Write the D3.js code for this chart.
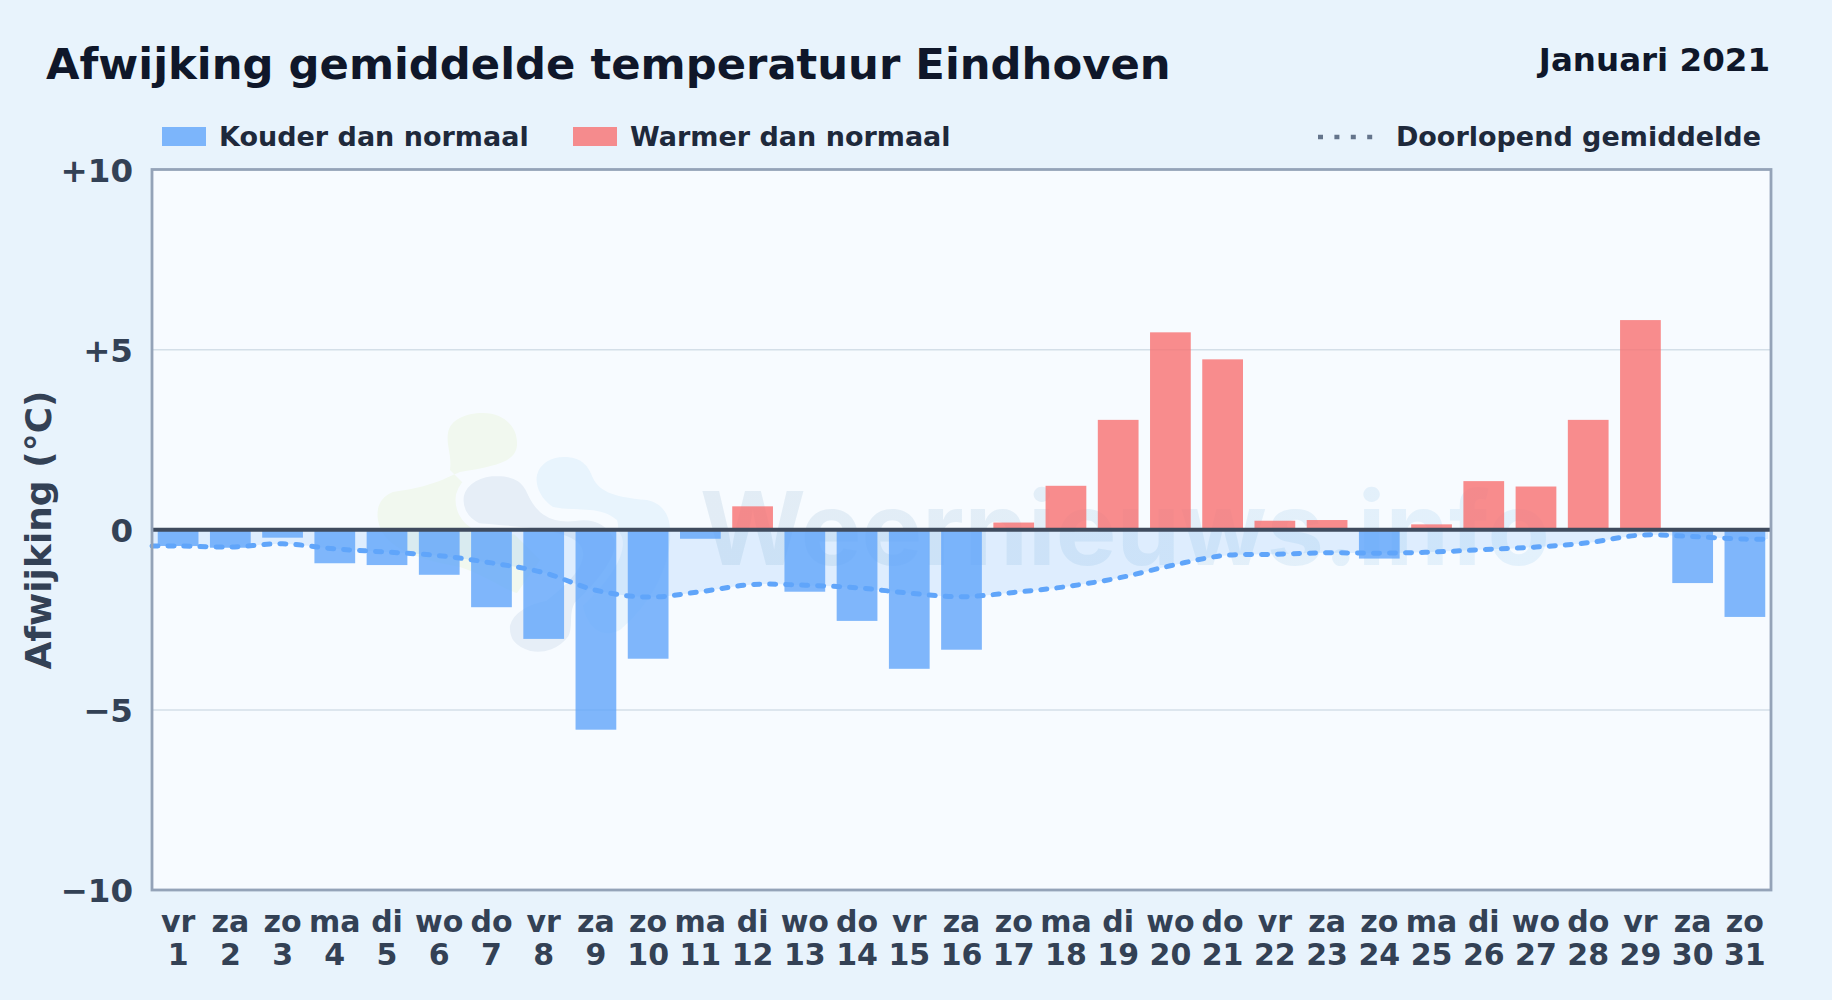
<!DOCTYPE html>
<html>
<head>
<meta charset="utf-8">
<style>
  html, body { margin: 0; padding: 0; background: #e8f3fc; }
  svg { display: block; }
  text { font-family: "DejaVu Sans", sans-serif; font-weight: 700; }
</style>
<script src="https://cdn.jsdelivr.net/npm/d3@7"></script>
</head>
<body>
<svg id="chart"></svg>
<script>
const dayNames = ["vr","za","zo","ma","di","wo","do","vr","za","zo","ma","di","wo","do","vr","za","zo","ma","di","wo","do","vr","za","zo","ma","di","wo","do","vr","za","zo"];
const days = [1,2,3,4,5,6,7,8,9,10,11,12,13,14,15,16,17,18,19,20,21,22,23,24,25,26,27,28,29,30,31];
const deviation = [-0.45,-0.5,-0.22,-0.93,-0.98,-1.25,-2.15,-3.03,-5.55,-3.58,-0.25,0.65,-1.72,-2.53,-3.86,-3.33,0.2,1.22,3.05,5.48,4.73,0.25,0.27,-0.8,0.15,1.35,1.2,3.05,5.82,-1.48,-2.42];
const runningMean = [-0.45,-0.48,-0.39,-0.53,-0.62,-0.72,-0.92,-1.19,-1.68,-1.87,-1.72,-1.52,-1.54,-1.61,-1.76,-1.86,-1.74,-1.58,-1.34,-1.0,-0.72,-0.68,-0.64,-0.65,-0.62,-0.55,-0.48,-0.36,-0.15,-0.19,-0.26];
const yTicks = [-10,-5,0,5,10];

const width = 1832, height = 1000;
const margin = { top: 169.5, right: 61, bottom: 110, left: 152 };

const svg = d3.select("#chart").attr("width", width).attr("height", height);

const x = d3.scaleBand().domain(days).range([margin.left, width - margin.right])
  .paddingInner(0.22).paddingOuter(0.11);
const y = d3.scaleLinear().domain([-10, 10]).range([height - margin.bottom, margin.top]);
const cx = (d) => x(d) + x.bandwidth() / 2;

svg.append("rect").attr("width", width).attr("height", height).attr("fill", "#e8f3fc");

// plot background
svg.append("rect")
  .attr("x", margin.left).attr("y", margin.top)
  .attr("width", width - margin.left - margin.right)
  .attr("height", height - margin.top - margin.bottom)
  .attr("fill", "#f7fbff");

// grid
svg.append("g")
  .attr("stroke", "#d4dfe8").attr("stroke-width", 1.5)
  .selectAll("line")
  .data(yTicks.filter((d) => d !== 0 && Math.abs(d) !== 10))
  .join("line")
  .attr("x1", margin.left).attr("x2", width - margin.right)
  .attr("y1", (d) => y(d)).attr("y2", (d) => y(d));

// watermark logo and name
const wm = svg.append("g").attr("class", "watermark");
wm.append("path")
  .attr("fill", "#f1f8ef")
  .attr("d", "M483 413 C505 413 518 428 517 445 C516 462 495 466 460 472 C445 478 435 486 393 492 C380 497 376 508 378 520 C382 545 410 558 460 567 C485 575 505 590 517 593 L540 560 L450 470 C452 455 446 445 448 433 C450 420 465 413 483 413 Z");
wm.append("path")
  .attr("fill", "#e8f4fd")
  .attr("d", "M567 457 C582 458 588 466 592 476 C598 490 610 497 647 500 C662 503 670 515 670 530 C672 560 655 600 620 630 C600 640 585 625 582 600 C590 570 625 545 617 520 C600 505 575 512 553 507 C540 498 535 485 537 475 C540 463 552 456 567 457 Z");
wm.append("path")
  .attr("fill", "#e6eef7").attr("stroke", "#f7fbff").attr("stroke-width", 8)
  .attr("d", "M498 472 C518 473 526 480 531 492 C538 507 548 520 575 517 C595 514 610 522 618 538 C624 555 600 585 578 605 C572 615 578 625 572 638 C562 652 545 658 530 655 C512 650 505 640 506 625 C510 608 530 600 545 597 C560 585 590 560 575 545 C555 530 500 530 478 527 C463 520 458 507 460 495 C464 480 480 472 498 472 Z");
const wmGrad = svg.append("defs").append("linearGradient").attr("id", "wmText");
wmGrad.append("stop").attr("offset", "0%").attr("stop-color", "#e2ecf5");
wmGrad.append("stop").attr("offset", "100%").attr("stop-color", "#e3f1fc");
wm.append("text")
  .attr("x", 700).attr("y", 565)
  .attr("font-size", 102)
  .style("font-family", "Inter, sans-serif")
  .attr("fill", "url(#wmText)")
  .text("Weernieuws.info");

// running mean reaches both edges of the plot
const meanX = [x.range()[0], ...days.map(cx), x.range()[1] - 3];
const meanY = [runningMean[0], ...runningMean, runningMean[runningMean.length - 1]];

const area = d3.area()
  .x((d, i) => meanX[i])
  .y0(y(0))
  .y1((d) => y(d))
  .curve(d3.curveCatmullRom);
svg.append("path").datum(meanY).attr("d", area).attr("fill", "#60a5fa").attr("fill-opacity", 0.16);

// bars
svg.append("g")
  .selectAll("rect")
  .data(deviation)
  .join("rect")
  .attr("x", (d, i) => x(days[i]))
  .attr("width", x.bandwidth())
  .attr("y", (d) => y(Math.max(d, 0)))
  .attr("height", (d) => Math.abs(y(d) - y(0)))
  .attr("fill", (d) => (d < 0 ? "#60a5fa" : "#f87171"))
  .attr("fill-opacity", 0.8);

const line = d3.line()
  .x((d, i) => meanX[i])
  .y((d) => y(d))
  .curve(d3.curveCatmullRom);
svg.append("path").datum(meanY).attr("d", line)
  .attr("fill", "none").attr("stroke", "#60a5fa").attr("stroke-width", 5)
  .attr("stroke-linecap", "round").attr("stroke-dasharray", "6 10");

// zero line
svg.append("line")
  .attr("x1", margin.left).attr("x2", width - margin.right)
  .attr("y1", y(0)).attr("y2", y(0))
  .attr("stroke", "#3f4b5e").attr("stroke-width", 4);

// frame
svg.append("rect")
  .attr("x", margin.left).attr("y", margin.top)
  .attr("width", width - margin.left - margin.right)
  .attr("height", height - margin.top - margin.bottom)
  .attr("fill", "none").attr("stroke", "#94a3b8").attr("stroke-width", 2.8);

// y tick labels
const fmt = (d) => (d > 0 ? "+" + d : d < 0 ? "\u2212" + Math.abs(d) : "0");
svg.append("g")
  .selectAll("text")
  .data(yTicks)
  .join("text")
  .attr("x", 133).attr("y", (d) => y(d))
  .attr("dy", "0.38em")
  .attr("text-anchor", "end").attr("font-size", 32.5)
  .attr("fill", "#334155")
  .text(fmt);

// x tick labels
const xLabels = svg.append("g").attr("font-size", 30).attr("fill", "#334155").attr("text-anchor", "middle");
xLabels.selectAll(".name").data(dayNames).join("text").attr("class", "name")
  .attr("x", (d, i) => cx(days[i])).attr("y", 932).text((d) => d);
xLabels.selectAll(".day").data(days).join("text").attr("class", "day")
  .attr("x", (d) => cx(d)).attr("y", 965).text((d) => d);

// y title
svg.append("text")
  .attr("transform", "translate(51,530) rotate(-90)")
  .attr("text-anchor", "middle").attr("font-size", 36).attr("fill", "#334155")
  .text("Afwijking (\u00b0C)");

// header
svg.append("text").attr("x", 46).attr("y", 79).attr("font-size", 43.3).attr("fill", "#0f172a")
  .text("Afwijking gemiddelde temperatuur Eindhoven");
svg.append("text").attr("x", 1770).attr("y", 71).attr("text-anchor", "end").attr("font-size", 32.5).attr("fill", "#0f172a")
  .text("Januari 2021");

// legend
const legend = svg.append("g").attr("font-size", 27).attr("fill", "#1e293b");
const swatches = [
  { x: 162, label: "Kouder dan normaal", color: "#60a5fa" },
  { x: 573, label: "Warmer dan normaal", color: "#f87171" },
];
swatches.forEach((s) => {
  legend.append("rect").attr("x", s.x).attr("y", 127).attr("width", 44).attr("height", 19)
    .attr("fill", s.color).attr("fill-opacity", 0.8);
  legend.append("text").attr("x", s.x + 57).attr("y", 146).text(s.label);
});
legend.append("line").attr("x1", 1318).attr("x2", 1374).attr("y1", 137).attr("y2", 137)
  .attr("stroke", "#64748b").attr("stroke-width", 4.5).attr("stroke-dasharray", "5 11.4");
legend.append("text").attr("x", 1761).attr("y", 146).attr("text-anchor", "end").text("Doorlopend gemiddelde");
</script>
</body>
</html>
